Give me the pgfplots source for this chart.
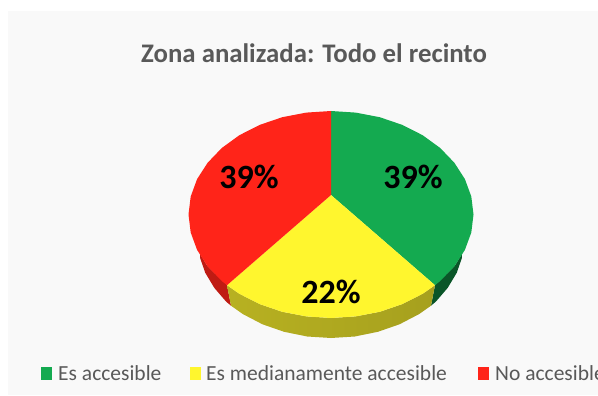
\documentclass[border=0pt]{standalone}
\usepackage{pgfplots}
\pgfplotsset{compat=1.18}
\usepackage{fontspec}
\setmainfont{Carlito}
\definecolor{cgreen}{HTML}{14AA50}
\definecolor{cyellow}{HTML}{FFF62E}
\definecolor{cred}{HTML}{FF2419}
\definecolor{ctext}{HTML}{595959}
\begin{document}
\begin{tikzpicture}
\path[use as bounding box,clip] (0,0) rectangle (598pt,396pt);
\begin{axis}[at={(0,0)},anchor=south west,scale only axis,width=598pt,height=396pt,
  xmin=0,xmax=598,ymin=0,ymax=396,y dir=reverse,hide axis,clip=false]
% panel
\addplot[fill=black!2.5,draw=none] coordinates {(8,11)(598,11)(598,395)(8,395)} --cycle;
% sides
\addplot[fill=cgreen!50!black,draw=none] coordinates {(435,285.2)(454.4,266.3)(462,254)(461.9,258)(456.7,272.9)(447.6,288)(435.9,301.6)(431,305.7)} --cycle;
\addplot[fill=cred!75!black,draw=none] coordinates {(227,285.2)(207.6,266.3)(200,254)(200.1,258)(205.3,272.9)(214.4,288)(226.1,301.6)(231,305.7)} --cycle;
\addplot[draw=none,left color=cyellow!72!black,middle color=cyellow!47!black,right color=cyellow!65!black] coordinates {(431,305.7)(419.1,314.1)(399.5,324.3)(377.9,331.8)(354.8,336.5)(331,338)(307.2,336.5)(284.1,331.8)(262.5,324.3)(242.9,314.1)(231,305.7)(227,285.2)(239.4,293.8)(259.7,304.1)(282.3,311.8)(306.3,316.4)(331,318)(355.7,316.4)(379.7,311.8)(402.3,304.1)(422.6,293.8)(435,285.2)} --cycle;
% top faces
\addplot[fill=cgreen,draw=none] coordinates {(331,195)(331,111)(355.7,112.6)(379.7,117.2)(402.3,124.9)(422.6,135.2)(440.2,148)(454.4,162.8)(464.9,179.1)(471.3,196.5)(473.5,214.5)(471.3,232.5)(464.9,249.9)(454.4,266.3)(440.2,281)(435,285.2)} --cycle;
\addplot[fill=cyellow,draw=none] coordinates {(331,195)(435,285.2)(422.6,293.8)(402.3,304.1)(379.7,311.8)(355.7,316.4)(331,318)(306.3,316.4)(282.3,311.8)(259.7,304.1)(239.4,293.8)(227,285.2)} --cycle;
\addplot[fill=cred,draw=none] coordinates {(331,195)(227,285.2)(221.8,281)(207.6,266.3)(197.1,249.9)(190.7,232.5)(188.5,214.5)(190.7,196.5)(197.1,179.1)(207.6,162.8)(221.8,148)(239.4,135.2)(259.7,124.9)(282.3,117.2)(306.3,112.6)(331,111)} --cycle;
% legend keys
\addplot[fill=cgreen,draw=none] coordinates {(41,367)(52,367)(52,380)(41,380)} --cycle;
\addplot[fill=cyellow,draw=none] coordinates {(190,367)(201,367)(201,380)(190,380)} --cycle;
\addplot[fill=cred,draw=none] coordinates {(478,367)(489,367)(489,380)(478,380)} --cycle;
% texts
\node[text=ctext,font=\fontsize{26.8}{28}\selectfont\bfseries,anchor=center] at (axis cs:314,53) {Zona analizada: Todo el recinto};
\node[font=\fontsize{34}{36}\selectfont\bfseries,anchor=center] at (axis cs:249,177) {39\%};
\node[font=\fontsize{34}{36}\selectfont\bfseries,anchor=center] at (axis cs:413,177) {39\%};
\node[font=\fontsize{34}{36}\selectfont\bfseries,anchor=center] at (axis cs:331,292) {22\%};
\node[text=ctext,font=\fontsize{21.5}{23}\selectfont,anchor=west,inner sep=0pt] at (axis cs:58,373) {Es accesible};
\node[text=ctext,font=\fontsize{21.5}{23}\selectfont,anchor=west,inner sep=0pt] at (axis cs:206,373) {Es medianamente accesible};
\node[text=ctext,font=\fontsize{21.5}{23}\selectfont,anchor=west,inner sep=0pt] at (axis cs:495,373) {No accesible};
\end{axis}
\end{tikzpicture}
\end{document}
